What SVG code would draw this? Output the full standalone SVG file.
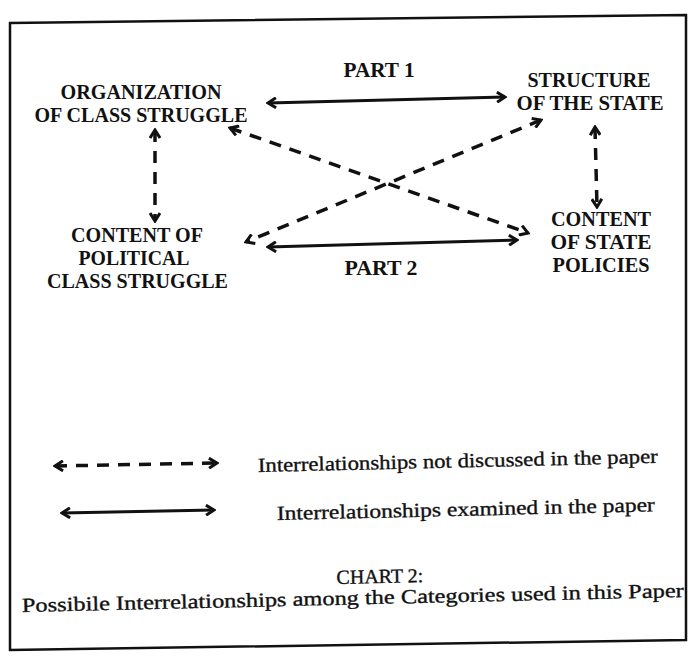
<svg xmlns="http://www.w3.org/2000/svg" width="692" height="656" viewBox="0 0 692 656">
<style>
.node text{font-family:"Liberation Serif","Times New Roman",serif;font-weight:bold;font-size:20px;fill:#111;text-anchor:middle}
.lbl{font-family:"Liberation Serif","Times New Roman",serif;font-weight:bold;font-size:20px;fill:#111;text-anchor:middle}
.leg{font-family:"Liberation Serif","Times New Roman",serif;font-size:20px;fill:#111;stroke:#111;stroke-width:0.35}
.solid{stroke:#111;stroke-width:3;fill:none;marker-start:url(#ah);marker-end:url(#ah)}
.dash{stroke:#111;stroke-width:3.5;fill:none;stroke-dasharray:12 9;marker-start:url(#ah);marker-end:url(#ah)}
</style>
<defs>
<marker id="ah" viewBox="0 0 12 12" refX="10" refY="6" markerWidth="12" markerHeight="12" markerUnits="userSpaceOnUse" orient="auto-start-reverse">
<path d="M2,1 L10,6 L2,11" fill="none" stroke="#111" stroke-width="3" stroke-linejoin="miter"/>
</marker>
</defs>
<rect width="692" height="656" fill="#fff"/>
<path id="frame" d="M10,23 L686,15 L686,640 L10,650 Z" fill="none" stroke="#111" stroke-width="2.5"/>
<g id="connectors">
<line class="solid" x1="268" y1="103" x2="505" y2="97"/>
<line class="solid" x1="268" y1="247" x2="517" y2="240"/>
<line class="dash" x1="155" y1="130" x2="155" y2="221"/>
<line class="dash" x1="595" y1="127" x2="597" y2="207"/>
<line class="dash" x1="230" y1="128" x2="528" y2="233"/>
<line class="dash" x1="541" y1="120" x2="246" y2="242"/>
</g>
<g id="n1" class="node"><text x="141" y="99" textLength="161" lengthAdjust="spacingAndGlyphs">ORGANIZATION</text><text x="141" y="122" textLength="213" lengthAdjust="spacingAndGlyphs">OF CLASS STRUGGLE</text></g>
<g id="n2" class="node"><text x="589" y="87" textLength="123" lengthAdjust="spacingAndGlyphs">STRUCTURE</text><text x="590" y="110" textLength="147" lengthAdjust="spacingAndGlyphs">OF THE STATE</text></g>
<g id="n3" class="node"><text x="137" y="242" textLength="132" lengthAdjust="spacingAndGlyphs">CONTENT OF</text><text x="134" y="265" textLength="111" lengthAdjust="spacingAndGlyphs">POLITICAL</text><text x="137.5" y="288" textLength="181" lengthAdjust="spacingAndGlyphs">CLASS STRUGGLE</text></g>
<g id="n4" class="node"><text x="601" y="226" textLength="100" lengthAdjust="spacingAndGlyphs">CONTENT</text><text x="601" y="249" textLength="101" lengthAdjust="spacingAndGlyphs">OF STATE</text><text x="601" y="272" textLength="97" lengthAdjust="spacingAndGlyphs">POLICIES</text></g>
<text class="lbl" x="379" y="77" textLength="71" lengthAdjust="spacingAndGlyphs">PART 1</text>
<text class="lbl" x="381" y="275" textLength="73" lengthAdjust="spacingAndGlyphs">PART 2</text>
<g id="legend">
<line class="dash" x1="55" y1="466" x2="217" y2="463" stroke-dasharray="9 9"/>
<line class="solid" x1="62" y1="513" x2="214" y2="510"/>
<text class="leg" x="258" y="472" textLength="400" lengthAdjust="spacingAndGlyphs" transform="rotate(-1.3 258 472)">Interrelationships not discussed in the paper</text>
<text class="leg" x="277" y="520" textLength="378" lengthAdjust="spacingAndGlyphs" transform="rotate(-1.3 277 520)">Interrelationships examined in the paper</text>
</g>
<g id="caption">
<text class="leg" x="380" y="583" text-anchor="middle" transform="rotate(-1.2 380 583)">CHART 2:</text>
<text class="leg" x="22" y="612" textLength="662" lengthAdjust="spacingAndGlyphs" transform="rotate(-1.3 22 612)">Possibile Interrelationships among the Categories used in this Paper</text>
</g>
</svg>
